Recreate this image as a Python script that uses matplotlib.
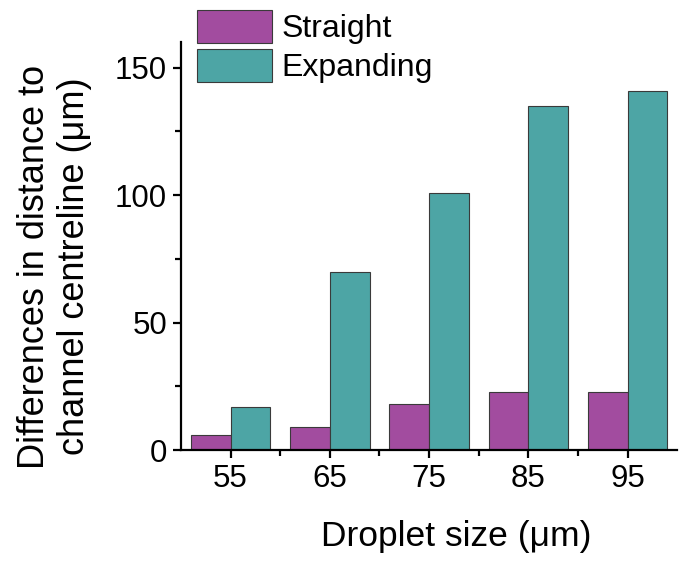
import matplotlib
matplotlib.use("Agg")
import matplotlib.pyplot as plt
import numpy as np
from matplotlib.ticker import MultipleLocator, FixedLocator

plt.rcParams['font.family'] = ['Liberation Sans', 'DejaVu Sans']

categories = ["55", "65", "75", "85", "95"]
straight = [6, 9, 18, 23, 23]
expanding = [17, 70, 101, 135, 141]
series_names = ["Straight", "Expanding"]
colors = ["#A24C9F", "#4DA5A5"]

fig = plt.figure(figsize=(6.8, 5.62), dpi=100)
ax = fig.add_axes([0.266, 0.199, 0.73, 0.726])

x = np.arange(len(categories))
w = 0.4
ax.bar(x - w/2, straight, w, color=colors[0], edgecolor="#3a3a3a", linewidth=0.8, label=series_names[0])
ax.bar(x + w/2, expanding, w, color=colors[1], edgecolor="#3a3a3a", linewidth=0.8, label=series_names[1])

ax.set_xlim(-0.5, 4.5)
ax.set_ylim(0, 160)
ax.set_xticks(x)
ax.set_xticklabels(categories)
ax.xaxis.set_minor_locator(FixedLocator(x[:-1] + 0.5))
ax.yaxis.set_major_locator(MultipleLocator(50))
ax.yaxis.set_minor_locator(MultipleLocator(25))

for s in ["top", "right"]:
    ax.spines[s].set_visible(False)
for s in ["left", "bottom"]:
    ax.spines[s].set_linewidth(1.6)

ax.tick_params(axis="both", which="major", length=6, width=1.6, labelsize=22.5, direction="out", pad=4)
ax.tick_params(axis="both", which="minor", length=4, width=1.6, direction="out")

ax.set_xlabel("Droplet size (μm)", fontsize=25.5)
ax.xaxis.set_label_coords(0.555, -0.17)
ax.set_ylabel("Differences in distance to\nchannel centreline (μm)", fontsize=26, linespacing=1.15)
ax.yaxis.set_label_coords(-0.18, 0.45)

leg = ax.legend(loc="upper left", bbox_to_anchor=(0.29, 0.982), bbox_transform=fig.transFigure,
                frameon=False, fontsize=23, handlelength=2.35, handleheight=1.2,
                handletextpad=0.3, labelspacing=0.15, borderaxespad=0, borderpad=0)

fig.savefig("out.png", dpi=100)
